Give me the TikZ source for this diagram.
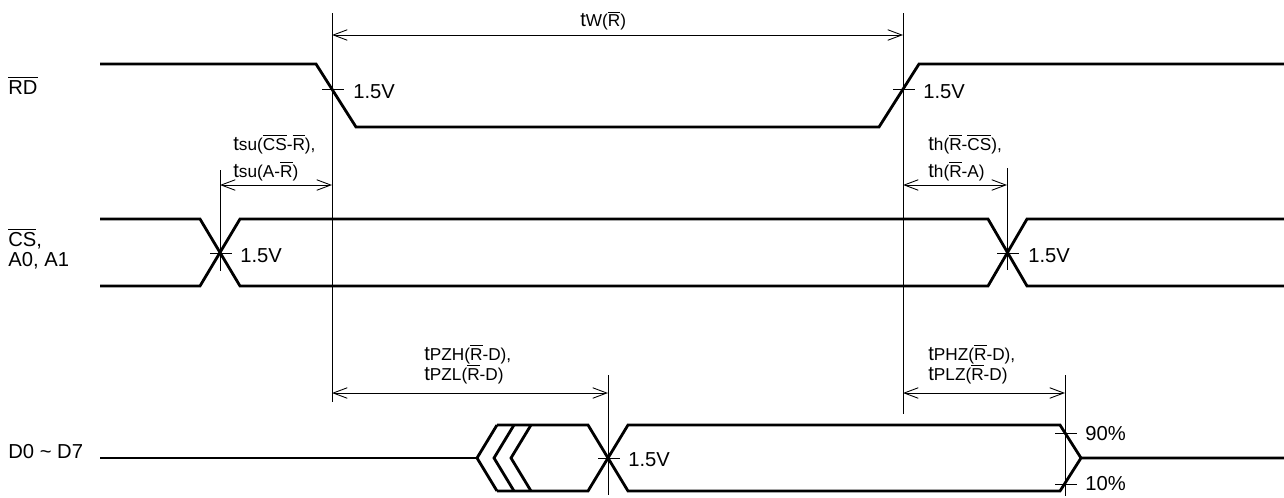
\documentclass[tikz,border=0pt]{standalone}
\usepackage{fontspec}
\setmainfont{Liberation Sans}
\usetikzlibrary{arrows.meta}
\newcommand{\ovl}[1]{$\overline{\mbox{#1}}$}
\newcommand{\tsub}[1]{t{\fontsize{9.8}{11}\selectfont #1}}
\begin{document}
\begin{tikzpicture}[x=0.02cm,y=-0.02cm,
    sig/.style={line width=1.6pt},
    guide/.style={line width=0.5pt},
    dim/.style={guide,{Straight Barb[length=8pt,width=6pt]}-{Straight Barb[length=8pt,width=6pt]}},
    lbl/.style={anchor=base west,inner sep=0pt,font=\fontsize{11.5}{13}\selectfont}]
  \useasboundingbox (0,0) rectangle (1284,497);

  % crossing points
  \coordinate (rdF) at (332,89);
  \coordinate (rdR) at (903,89);
  \coordinate (csA) at (220,253);
  \coordinate (csB) at (1007,253);
  \coordinate (dOn) at (608,458);
  \coordinate (dHi) at (1065,433);
  \coordinate (dLo) at (1065,484);

  % signals
  \draw[sig] (100,64) -- (316,64) -- (356,127) -- (879,127) -- (919,64) -- (1284,64);
  \draw[sig] (100,219) -- (200,219) -- (240,286) -- (988,286) -- (1027,219) -- (1284,219);
  \draw[sig] (100,286) -- (200,286) -- (240,219) -- (988,219) -- (1027,286) -- (1284,286);
  \draw[sig] (100,458) -- (477,458);
  \foreach \o in {0,17,34} {
    \draw[sig] (497+\o,425) -- (477+\o,458) -- (497+\o,491);
  }
  \draw[sig] (497,425) -- (588,425) -- (628,491) -- (1060,491) -- (1081,458) -- (1284,458);
  \draw[sig] (497,491) -- (588,491) -- (628,425) -- (1060,425) -- (1081,458);

  % guide lines
  \draw[guide] (rdF |- 0,13) -- (rdF |- 0,402);
  \draw[guide] (rdR |- 0,13) -- (rdR |- 0,414);
  \draw[guide] (csA |- 0,170) -- (csA |- 0,271);
  \draw[guide] (csB |- 0,168) -- (csB |- 0,270);
  \draw[guide] (dOn |- 0,375) -- (dOn |- 0,495);
  \draw[guide] (dHi |- 0,375) -- (dHi |- 0,496);

  % level ticks
  \foreach \p in {rdF,rdR,csA,csB,dOn,dHi,dLo} {
    \draw[guide] (\p) ++(-10,0) -- ++(22,0);
  }

  % timing arrows
  \draw[dim] (rdF |- 0,35) -- (rdR |- 0,35);
  \draw[dim] (csA |- 0,185) -- (rdF |- 0,185);
  \draw[dim] (rdR |- 0,185) -- (csB |- 0,185);
  \draw[dim] (rdF |- 0,393) -- (dOn |- 0,393);
  \draw[dim] (rdR |- 0,393) -- (dHi |- 0,393);

  % signal names
  \node[lbl] (rdname) at (8,94) {\ovl{RD}};
  \node[lbl] (csname) at (8,246) {\ovl{CS},};
  \node[lbl] (aname) at (8,266) {A0, A1};
  \node[lbl] (dname) at (8,458) {D0 \textasciitilde{} D7};

  % levels
  \node[lbl] (vrdF) at (353,98) {1.5V};
  \node[lbl] (vrdR) at (923,98) {1.5V};
  \node[lbl] (vcsA) at (240,262) {1.5V};
  \node[lbl] (vcsB) at (1028,262) {1.5V};
  \node[lbl] (vdOn) at (628,466) {1.5V};
  \node[lbl] (vdHi) at (1085,440) {90\%};
  \node[lbl] (vdLo) at (1085,490) {10\%};

  % timing names
  \node[lbl] (tw) at (580,27) {\tsub{W(\ovl{R})}};
  \node[lbl] (tsu1) at (233,150) {\tsub{su(\ovl{CS}-\ovl{R}),}};
  \node[lbl] (tsu2) at (233,177) {\tsub{su(A-\ovl{R})}};
  \node[lbl] (th1) at (928,150) {\tsub{h(\ovl{R}-\ovl{CS}),}};
  \node[lbl] (th2) at (928,177) {\tsub{h(\ovl{R}-A)}};
  \node[lbl] (tpz1) at (424,360) {\tsub{PZH(\ovl{R}-D),}};
  \node[lbl] (tpz2) at (424,380) {\tsub{PZL(\ovl{R}-D)}};
  \node[lbl] (tpx1) at (928,360) {\tsub{PHZ(\ovl{R}-D),}};
  \node[lbl] (tpx2) at (928,380) {\tsub{PLZ(\ovl{R}-D)}};
\end{tikzpicture}
\end{document}
